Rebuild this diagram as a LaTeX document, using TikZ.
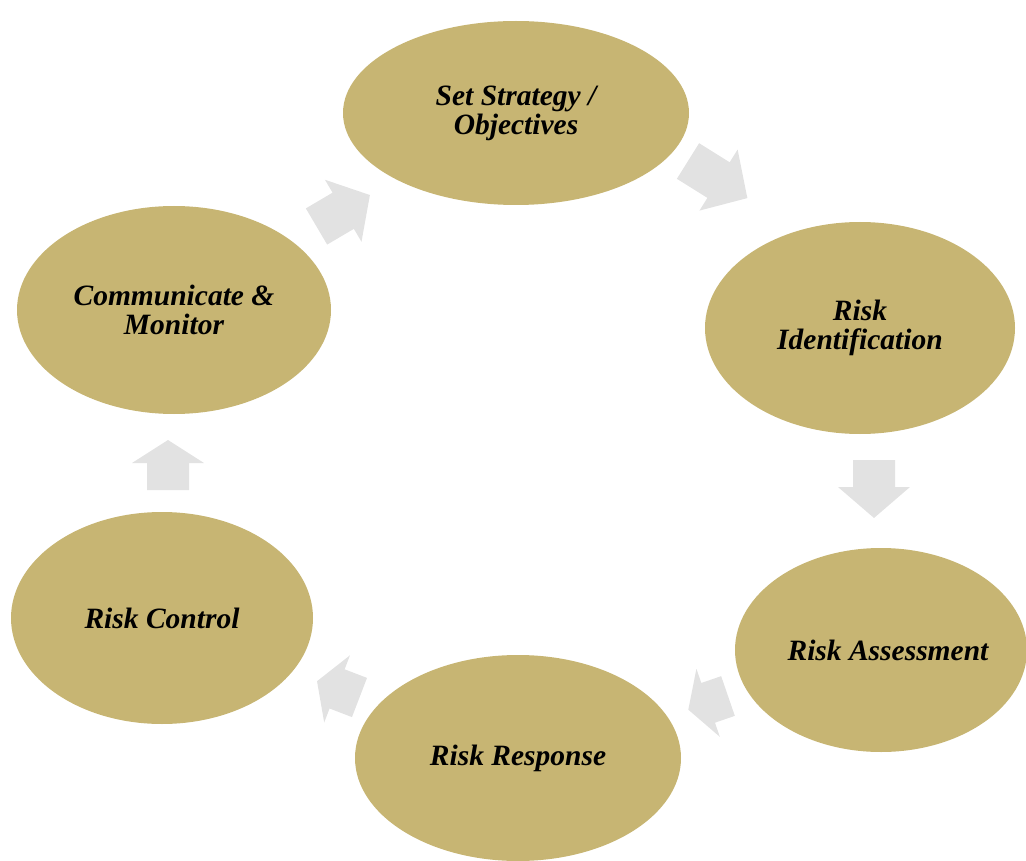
\documentclass[tikz,border=0pt]{standalone}
\usepackage{fontspec}
\setmainfont{Liberation Serif}
\usepackage{xcolor}
\usepackage{tikz}
\usetikzlibrary{shapes.geometric}

\definecolor{stagegold}{RGB}{199,181,115}
\definecolor{arrowgray}{RGB}{226,226,226}

\begin{document}
\begin{tikzpicture}[x=1pt,y=-1pt,
  stage/.style={ellipse, fill=stagegold, inner sep=0pt, align=center,
    font=\fontsize{29.5}{29}\selectfont\bfseries\itshape}]
  % Fix the frame and cut the ellipses at its edges
  \useasboundingbox (0,0) rectangle (1026,861);
  \clip (0,0) rectangle (1026,861);

  % Stages of the cycle
  \node[stage, minimum width=346pt, minimum height=184pt] (strategy) at (516,113) {Set Strategy /\\Objectives};
  \node[stage, minimum width=310pt, minimum height=212pt] (ident) at (860,328) {Risk\\Identification};
  \node[stage, minimum width=292pt, minimum height=204pt] (assess) at (881,650) {\hspace*{14pt}\makebox[176pt]{Risk Assessment}};
  \node[stage, minimum width=326pt, minimum height=206pt] (response) at (518,758) {Risk Response};
  \node[stage, minimum width=302pt, minimum height=212pt] (control) at (162,618) {Risk Control};
  \node[stage, minimum width=314pt, minimum height=208pt] (monitor) at (174,310) {Communicate \&\\Monitor};

  % Block arrows: back of shaft, angle, shaft length, head length
  \foreach \bx/\by/\ang/\sl/\hl in {688/161/-32/36/34, 874/460/-90/27/31,
      728/696/199/21/21, 359.5/697.5/159/24/21.5, 168/490/90/27/23,
      316.5/226.5/30.5/31/31}
    \fill[arrowgray, shift={(\bx,\by)}, rotate=\ang]
      (0,-21) -- (\sl,-21) -- (\sl,-36) -- (\sl+\hl,0) -- (\sl,36) -- (\sl,21) -- (0,21) -- cycle;

\end{tikzpicture}
\end{document}
